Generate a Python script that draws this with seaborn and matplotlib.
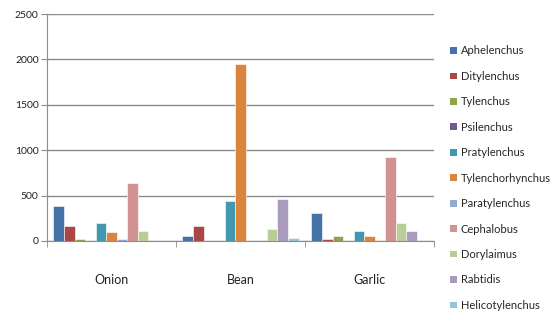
import seaborn as sns
import matplotlib.pyplot as plt
import pandas as pd
import numpy as np
from matplotlib.patches import Patch

crops = ['Onion', 'Bean', 'Garlic']
species = ['Aphelenchus', 'Ditylenchus', 'Tylenchus', 'Psilenchus', 'Pratylenchus',
           'Tylenchorhynchus', 'Paratylenchus', 'Cephalobus', 'Dorylaimus', 'Rabtidis',
           'Helicotylenchus']
aphelenchus = [380, 55, 305]
ditylenchus = [160, 160, 25]
tylenchus = [25, 0, 55]
psilenchus = [0, 0, 0]
pratylenchus = [195, 440, 110]
tylenchorhynchus = [100, 1950, 55]
paratylenchus = [25, 0, 0]
cephalobus = [635, 0, 925]
dorylaimus = [110, 135, 195]
rabtidis = [0, 465, 110]
helicotylenchus = [0, 30, 0]

colors = ['#4572A7', '#AA4643', '#89A54E', '#71588F', '#4198AF', '#DB843D',
          '#93A9CF', '#D19392', '#B9CD96', '#A99BBD', '#92C5D6']

vals = [aphelenchus, ditylenchus, tylenchus, psilenchus, pratylenchus, tylenchorhynchus,
        paratylenchus, cephalobus, dorylaimus, rabtidis, helicotylenchus]
rows = []
for sp, v in zip(species, vals):
    for c, x in zip(crops, v):
        rows.append({'crop': c, 'species': sp, 'value': x})
df = pd.DataFrame(rows)

sns.set_style('white')
plt.rcParams['font.family'] = ['Lato', 'DejaVu Sans']

fig = plt.figure(figsize=(5.6, 3.14), dpi=100)
ax = fig.add_axes([47/560, 1-241/314, (434-47)/560, (241-14)/314])

sns.barplot(data=df, x='crop', y='value', hue='species', hue_order=species,
            order=crops, palette=colors, saturation=1, width=0.9, edgecolor='white',
            linewidth=0.4, legend=False, ax=ax)

ax.set_ylim(0, 2500)
ax.set_xlim(-0.5, 2.5)
ax.set_yticks(np.arange(0, 2501, 500))
ax.yaxis.grid(True, color='#8c8c8c', linewidth=1.0)
ax.set_axisbelow(True)
ax.set_xlabel('')
ax.set_ylabel('')
for s in ['top', 'right']:
    ax.spines[s].set_visible(False)
ax.spines['left'].set_color('#8c8c8c')
ax.spines['bottom'].set_color('#8c8c8c')
ax.tick_params(axis='y', which='major', direction='out', length=4, color='#8c8c8c',
               labelsize=7.5, pad=2, left=True, labelcolor='#222222')
ax.tick_params(axis='x', which='major', length=0, pad=24, labelsize=9, labelcolor='#222222')
ax.set_xticks([-0.5, 0.5, 1.5, 2.5], minor=True)
ax.tick_params(axis='x', which='minor', direction='out', length=4, color='#8c8c8c', bottom=True)

handles = [Patch(facecolor=c, edgecolor='none') for c in colors]
fig.legend(handles, species, loc='upper left', bbox_to_anchor=(446/560, 1-41/314),
           frameon=False, fontsize=8, handlelength=0.55, handleheight=0.55,
           handletextpad=0.4, labelspacing=1.3, borderaxespad=0)

fig.savefig('out.png', dpi=100)
